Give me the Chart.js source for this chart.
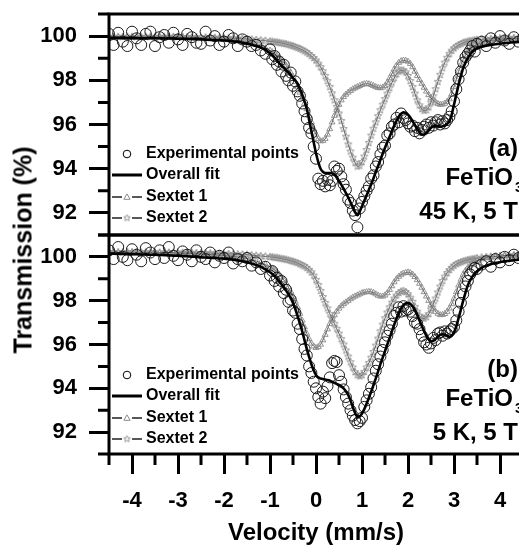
<!DOCTYPE html>
<html>
<head>
<meta charset="utf-8">
<script src="https://cdn.jsdelivr.net/npm/chart.js@4/dist/chart.umd.min.js"></script>
<style>
  html, body { margin: 0; padding: 0; background: #fff; overflow: hidden; }
  #wrap { position: relative; width: 519px; height: 548px; overflow: hidden; background: #fff; }
  #wrap canvas { position: absolute; left: 0; }
  #ytitle {
    position: absolute; left: 23px; top: 250px;
    transform: translate(-50%, -50%) rotate(-90deg);
    white-space: nowrap; font: bold 25px 'Liberation Sans', Arial, sans-serif; color: #000;
  }
</style>
</head>
<body>
<div id="wrap">
  <canvas id="panelA" width="560" height="265" style="top:0px"></canvas>
  <canvas id="panelB" width="560" height="327" style="top:221px"></canvas>
  <div id="ytitle">Transmission (%)</div>
</div>
<script>
// Velocity channels (mm/s) shared by every series
const velocity = [
  -4.5,-4.4,-4.3,-4.2,-4.1,-4.0,-3.9,-3.8,-3.7,-3.6,-3.5,-3.4,-3.3,-3.2,-3.1,-3.0,-2.9,-2.8,-2.7,-2.6,
  -2.5,-2.4,-2.3,-2.2,-2.1,-2.0,-1.9,-1.8,-1.7,-1.6,-1.5,-1.4,-1.3,-1.2,-1.1,
  -1.0,-0.95,-0.9,-0.85,-0.8,-0.75,-0.7,-0.65,-0.6,-0.55,-0.5,-0.45,-0.4,-0.35,-0.3,-0.25,-0.2,-0.15,-0.1,-0.05,
  0,0.05,0.1,0.15,0.2,0.25,0.3,0.35,0.4,0.45,0.5,0.55,0.6,0.65,0.7,0.75,0.8,0.85,0.9,0.95,
  1.0,1.05,1.1,1.15,1.2,1.25,1.3,1.35,1.4,1.45,1.5,1.55,1.6,1.65,1.7,1.75,1.8,1.85,1.9,1.95,
  2.0,2.05,2.1,2.15,2.2,2.25,2.3,2.35,2.4,2.45,2.5,2.55,2.6,2.65,2.7,2.75,2.8,2.85,2.9,2.95,
  3.0,3.05,3.1,3.15,3.2,3.25,3.3,3.35,3.4,3.45,3.5,
  3.6,3.7,3.8,3.9,4.0,4.1,4.2,4.3,4.4,4.5
];

// Panel (a): 45 K, 5 T
const expA = [
  100.1,99.6,100.15,99.75,99.55,100.2,99.9,99.6,100.1,100.2,99.55,99.95,100.05,99.7,100.15,99.85,99.6,100.1,99.95,99.7,
  99.65,100.2,99.8,100.0,99.6,99.75,100.05,99.9,99.55,99.85,99.75,99.55,99.6,99.35,99.2,
  99.4,98.95,99.1,98.7,98.85,98.4,98.7,98.2,98.0,98.35,97.75,97.95,97.5,97.3,96.95,96.6,96.25,95.85,95.6,95.0,
  94.45,93.55,93.3,93.45,93.2,93.5,93.25,93.45,94.1,93.9,94.0,93.65,93.3,93.05,92.6,92.45,92.1,91.9,91.35,92.2,
  92.5,92.75,93.0,93.2,93.55,93.7,94.1,94.3,94.65,94.95,95.05,95.5,95.6,95.9,96.0,96.3,96.1,96.5,96.3,96.2,
  96.05,95.9,95.95,95.7,95.85,95.6,95.75,95.9,96.0,95.85,96.1,95.95,96.1,96.2,96.0,96.15,96.05,96.2,96.35,96.6,
  97.05,97.6,98.05,98.4,98.8,99.05,99.2,99.35,99.55,99.3,99.65,
  99.75,99.55,99.9,99.7,100.0,99.8,99.65,99.95,99.75,99.85
];
const fitA = [
  99.92,99.92,99.92,99.91,99.91,99.91,99.91,99.9,99.9,99.9,99.9,99.9,99.89,99.89,99.89,99.88,99.88,99.87,99.87,99.86,
  99.85,99.84,99.83,99.82,99.81,99.8,99.78,99.76,99.73,99.7,99.66,99.61,99.55,99.48,99.38,
  99.22,99.12,99.02,98.9,98.78,98.67,98.56,98.46,98.35,98.23,98.1,97.99,97.85,97.62,97.35,97.05,96.7,96.22,95.7,95.2,
  94.7,94.3,94.0,93.86,93.8,93.8,93.8,93.79,93.75,93.62,93.45,93.28,93.1,92.9,92.7,92.48,92.25,92.03,91.9,92.06,
  92.3,92.55,92.8,93.05,93.3,93.57,93.85,94.12,94.4,94.68,94.95,95.2,95.45,95.7,95.95,96.17,96.35,96.48,96.55,96.53,
  96.45,96.32,96.15,95.97,95.8,95.65,95.55,95.55,95.6,95.73,95.85,95.92,95.95,95.92,95.9,95.92,95.95,96.03,96.15,96.45,
  96.9,97.35,97.8,98.2,98.55,98.8,99.0,99.17,99.3,99.39,99.45,
  99.52,99.57,99.6,99.63,99.66,99.68,99.7,99.72,99.73,99.74
];
const sextet1A = [
  99.95,99.95,99.95,99.95,99.95,99.95,99.95,99.95,99.95,99.95,99.95,99.95,99.95,99.95,99.95,99.95,99.94,99.94,99.93,99.93,
  99.92,99.91,99.9,99.89,99.88,99.87,99.85,99.83,99.8,99.77,99.73,99.68,99.62,99.55,99.46,
  99.35,99.28,99.2,99.12,99.02,98.92,98.8,98.67,98.52,98.35,98.15,97.93,97.7,97.45,97.2,96.95,96.7,96.4,96.1,95.8,
  95.55,95.35,95.25,95.26,95.35,95.55,95.8,96.1,96.4,96.67,96.9,97.1,97.25,97.36,97.45,97.53,97.6,97.65,97.7,97.75,
  97.8,97.83,97.85,97.83,97.8,97.75,97.7,97.66,97.65,97.68,97.75,97.9,98.1,98.3,98.5,98.67,98.8,98.87,98.9,98.89,
  98.85,98.75,98.6,98.4,98.2,98.02,97.85,97.67,97.5,97.34,97.2,97.09,97.0,96.94,96.9,96.91,96.95,97.03,97.15,97.38,
  97.7,98.05,98.4,98.7,98.95,99.14,99.3,99.41,99.5,99.57,99.62,
  99.7,99.75,99.79,99.82,99.85,99.87,99.88,99.89,99.9,99.9
];
const sextet2A = [
  99.97,99.97,99.97,99.97,99.97,99.97,99.97,99.97,99.97,99.97,99.97,99.97,99.97,99.97,99.97,99.97,99.96,99.96,99.95,99.95,
  99.94,99.94,99.93,99.93,99.92,99.92,99.91,99.9,99.89,99.88,99.87,99.85,99.83,99.81,99.79,
  99.76,99.75,99.73,99.72,99.7,99.68,99.66,99.64,99.61,99.58,99.55,99.51,99.47,99.43,99.38,99.32,99.26,99.19,99.1,99.01,
  98.9,98.76,98.6,98.41,98.2,97.96,97.7,97.41,97.1,96.8,96.5,96.16,95.8,95.45,95.1,94.78,94.5,94.27,94.1,94.14,
  94.3,94.55,94.85,95.17,95.5,95.81,96.1,96.38,96.65,96.9,97.15,97.4,97.65,97.89,98.1,98.28,98.4,98.45,98.45,98.36,
  98.2,97.97,97.7,97.4,97.1,96.87,96.7,96.63,96.65,96.78,97.0,97.28,97.6,97.93,98.25,98.55,98.8,99.02,99.2,99.34,
  99.45,99.53,99.6,99.65,99.7,99.73,99.76,99.78,99.8,99.82,99.83,
  99.85,99.87,99.88,99.89,99.9,99.91,99.91,99.92,99.92,99.92
];

// Panel (b): 5 K, 5 T
const expB = [
  100.3,99.9,100.45,100.0,99.85,100.35,100.1,99.8,100.4,100.2,99.9,100.3,99.95,100.45,100.05,99.85,100.25,100.1,99.8,100.3,
  100.0,99.9,100.2,99.75,100.05,99.95,100.2,99.7,99.9,99.8,99.95,99.6,99.75,99.45,99.55,
  99.15,99.35,98.9,99.05,98.65,98.9,98.35,98.5,97.95,98.05,97.55,97.45,96.95,96.7,96.25,95.8,95.5,95.0,94.7,94.3,
  94.0,93.6,93.3,93.85,93.55,94.1,94.5,95.15,95.25,95.2,94.6,94.3,93.95,93.6,93.3,93.0,92.75,92.55,92.4,92.5,
  92.65,93.15,93.45,93.75,94.05,94.45,94.8,95.1,95.45,95.75,96.1,96.4,96.65,96.95,97.3,97.45,97.7,97.5,97.75,97.55,
  97.6,97.5,97.3,97.0,96.95,96.7,96.4,96.1,96.0,95.85,96.05,96.3,96.2,96.5,96.55,96.4,96.6,96.5,96.6,96.7,
  96.8,97.1,97.5,97.9,98.3,98.65,98.9,99.2,99.35,99.5,99.45,
  99.65,99.8,99.55,99.9,99.75,100.0,99.85,100.1,99.95,100.05
];
const fitB = [
  100.15,100.15,100.14,100.14,100.13,100.12,100.12,100.11,100.11,100.1,100.1,100.09,100.08,100.07,100.06,100.05,100.04,100.03,100.01,100.0,
  99.98,99.97,99.96,99.95,99.93,99.92,99.9,99.87,99.84,99.8,99.76,99.7,99.63,99.55,99.43,
  99.3,99.22,99.12,99.01,98.88,98.75,98.6,98.46,98.3,98.12,97.9,97.62,97.3,96.96,96.6,96.2,95.8,95.43,95.1,94.82,
  94.6,94.5,94.45,94.42,94.4,94.38,94.35,94.3,94.25,94.2,94.15,94.09,94.0,93.87,93.7,93.45,93.15,92.87,92.7,92.72,
  92.85,93.05,93.3,93.57,93.85,94.15,94.45,94.77,95.1,95.4,95.7,96.0,96.3,96.6,96.9,97.18,97.45,97.65,97.8,97.88,
  97.9,97.85,97.75,97.57,97.35,97.1,96.85,96.61,96.4,96.24,96.15,96.17,96.25,96.36,96.45,96.47,96.45,96.4,96.35,96.4,
  96.55,96.84,97.2,97.6,98.0,98.37,98.7,98.93,99.1,99.24,99.35,
  99.5,99.6,99.67,99.72,99.76,99.8,99.82,99.85,99.87,99.88
];
const sextet1B = [
  100.2,100.2,100.2,100.2,100.2,100.2,100.2,100.19,100.19,100.19,100.19,100.18,100.18,100.18,100.17,100.17,100.16,100.16,100.15,100.14,
  100.13,100.12,100.11,100.1,100.08,100.06,100.04,100.02,99.99,99.96,99.92,99.87,99.81,99.74,99.65,
  99.54,99.48,99.4,99.31,99.2,99.08,98.95,98.8,98.62,98.42,98.2,97.96,97.7,97.41,97.1,96.79,96.5,96.25,96.05,95.92,
  95.85,95.89,96.0,96.2,96.45,96.7,96.95,97.16,97.35,97.51,97.65,97.76,97.85,97.93,98.0,98.08,98.15,98.2,98.25,98.3,
  98.35,98.38,98.4,98.41,98.4,98.36,98.3,98.24,98.2,98.2,98.25,98.35,98.5,98.67,98.85,98.99,99.1,99.19,99.25,99.28,
  99.3,99.27,99.2,99.09,98.95,98.78,98.6,98.4,98.2,98.0,97.8,97.64,97.5,97.41,97.35,97.36,97.4,97.5,97.65,97.85,
  98.1,98.4,98.7,98.97,99.2,99.37,99.5,99.61,99.7,99.77,99.82,
  99.9,99.95,99.99,100.02,100.04,100.06,100.07,100.08,100.09,100.1
];
const sextet2B = [
  100.22,100.22,100.22,100.22,100.22,100.22,100.21,100.21,100.21,100.21,100.21,100.2,100.2,100.2,100.2,100.2,100.19,100.19,100.19,100.18,
  100.18,100.17,100.17,100.16,100.15,100.15,100.14,100.13,100.12,100.11,100.1,100.08,100.06,100.04,100.02,
  100.0,99.99,99.97,99.96,99.94,99.92,99.9,99.88,99.85,99.82,99.79,99.76,99.72,99.67,99.62,99.57,99.5,99.41,99.3,99.15,
  98.95,98.72,98.45,98.17,97.9,97.65,97.4,97.17,96.95,96.72,96.5,96.25,96.0,95.73,95.45,95.19,94.95,94.74,94.6,94.55,
  94.6,94.75,94.95,95.16,95.4,95.66,95.95,96.27,96.6,96.91,97.2,97.46,97.7,97.91,98.1,98.24,98.35,98.42,98.45,98.4,
  98.3,98.14,97.95,97.72,97.5,97.32,97.2,97.19,97.25,97.39,97.6,97.84,98.1,98.38,98.65,98.9,99.1,99.27,99.4,99.51,
  99.6,99.67,99.72,99.76,99.8,99.83,99.86,99.88,99.9,99.92,99.94,
  99.97,99.99,100.01,100.03,100.04,100.05,100.06,100.07,100.08,100.08
];

// Axis ticks
const yMajor = [92, 94, 96, 98, 100];
const yMinor = [91, 93, 95, 97, 99, 101];
const xMajor = [-4, -3, -2, -1, 0, 1, 2, 3, 4];
const xMinor = [-4.5, -3.5, -2.5, -1.5, -0.5, 0.5, 1.5, 2.5, 3.5, 4.5];

const legendLabels = ['Experimental points', 'Overall fit', 'Sextet 1', 'Sextet 2'];
const FONT = "'Liberation Sans', Arial, sans-serif";
Chart.defaults.font.family = FONT;
Chart.defaults.color = '#000';

const near = (v, list) => list.some(t => Math.abs(t - v) < 1e-6);
const pairs = ys => velocity.map((v, i) => ({ x: v, y: ys[i] }));

// open five-point star used as marker for the second sextet
function starMarker(r, color) {
  const c = document.createElement('canvas');
  const s = Math.ceil(r * 2 + 2);
  c.width = s; c.height = s;
  const g = c.getContext('2d');
  g.strokeStyle = color; g.lineWidth = 0.9;
  g.beginPath();
  for (let i = 0; i < 10; i++) {
    const rr = i % 2 ? r * 0.45 : r;
    const a = -Math.PI / 2 + i * Math.PI / 5;
    const px = s / 2 + rr * Math.cos(a), py = s / 2 + rr * Math.sin(a);
    if (i) g.lineTo(px, py); else g.moveTo(px, py);
  }
  g.closePath(); g.stroke();
  return c;
}
const STAR = starMarker(3.8, '#8a8a8a');
const STAR_LEG = starMarker(3.4, '#8a8a8a');

function drawTriangle(ctx, cx, cy, r, color) {
  ctx.save();
  ctx.strokeStyle = color; ctx.lineWidth = 1;
  ctx.beginPath();
  ctx.moveTo(cx, cy - r);
  ctx.lineTo(cx + r * 0.87, cy + r * 0.5);
  ctx.lineTo(cx - r * 0.87, cy + r * 0.5);
  ctx.closePath(); ctx.stroke();
  ctx.restore();
}

// frame, minor ticks, in-panel legend and sample labels
const panelDecor = {
  id: 'panelDecor',
  afterDraw(chart, args, o) {
    const { ctx, chartArea: a } = chart;
    const xs = chart.scales.x, ys = chart.scales.y;
    ctx.save();
    ctx.strokeStyle = '#000';
    ctx.lineWidth = 3;
    ctx.lineCap = 'butt';
    ctx.strokeRect(a.left, a.top, a.right - a.left, a.bottom - a.top);
    ctx.beginPath();
    yMinor.forEach(v => {
      const py = ys.getPixelForValue(v);
      ctx.moveTo(a.left - 11, py); ctx.lineTo(a.left, py);
    });
    if (o.xTicks) {
      xMinor.forEach(v => {
        const px = xs.getPixelForValue(v);
        ctx.moveTo(px, a.bottom); ctx.lineTo(px, a.bottom + 11);
      });
    }
    ctx.stroke();

    // legend
    const rows = [140, 161, 183, 204].map(d => a.top + d);
    const sx = a.left + 18, l0 = a.left + 3, l1 = a.left + 33;
    ctx.fillStyle = '#000';
    ctx.font = 'bold 16px ' + FONT;
    ctx.textAlign = 'left';
    ctx.textBaseline = 'middle';
    legendLabels.forEach((t, i) => ctx.fillText(t, a.left + 37, rows[i]));
    ctx.lineWidth = 1;
    ctx.beginPath(); ctx.arc(sx, rows[0], 3.8, 0, Math.PI * 2); ctx.stroke();
    ctx.lineWidth = 3;
    ctx.beginPath(); ctx.moveTo(l0, rows[1]); ctx.lineTo(l1, rows[1]); ctx.stroke();
    ctx.lineWidth = 1.3;
    ctx.strokeStyle = '#222';
    [2, 3].forEach(i => {
      ctx.beginPath();
      ctx.moveTo(l0, rows[i]); ctx.lineTo(sx - 5, rows[i]);
      ctx.moveTo(sx + 5, rows[i]); ctx.lineTo(l1, rows[i]);
      ctx.stroke();
    });
    drawTriangle(ctx, sx, rows[2] + 0.5, 3.6, '#8a8a8a');
    ctx.drawImage(STAR_LEG, sx - STAR_LEG.width / 2, rows[3] - STAR_LEG.height / 2);

    // sample labels
    ctx.fillStyle = '#000';
    ctx.font = 'bold 24px ' + FONT;
    ctx.textAlign = 'right';
    ctx.fillText(o.tag, a.right - 5, a.top + 135);
    ctx.fillText('FeTiO', a.right - 10, a.top + 164);
    ctx.fillText(o.cond, a.right - 5, a.top + 198);
    ctx.font = 'bold 14px ' + FONT;
    ctx.textAlign = 'left';
    ctx.fillText('3', a.right - 8, a.top + 174);
    ctx.restore();
  }
};

function panelConfig(exp, fit, s1, s2, decor, withX) {
  return {
    type: 'line',
    data: {
      datasets: [
        { label: 'Overall fit', data: pairs(fit), borderColor: '#000', borderWidth: 2.6,
          pointRadius: 0, cubicInterpolationMode: 'monotone' },
        { label: 'Experimental points', data: pairs(exp), showLine: false, pointStyle: 'circle',
          pointRadius: 5.5, pointBorderWidth: 1, pointBorderColor: '#1a1a1a',
          pointBackgroundColor: 'rgba(0,0,0,0)' },
        { label: 'Sextet 1', data: pairs(s1), borderColor: '#555', borderWidth: 1,
          pointStyle: 'triangle', pointRadius: 3.4, pointBorderWidth: 0.9,
          pointBorderColor: '#8a8a8a', pointBackgroundColor: 'rgba(0,0,0,0)',
          cubicInterpolationMode: 'monotone' },
        { label: 'Sextet 2', data: pairs(s2), borderColor: '#555', borderWidth: 1,
          pointStyle: STAR, pointRadius: 3.8,
          cubicInterpolationMode: 'monotone' }
      ]
    },
    options: {
      responsive: false,
      animation: false,
      events: [],
      layout: { padding: { left: 0, right: 37, top: 14, bottom: withX ? 0 : 30 } },
      plugins: { legend: { display: false }, tooltip: { enabled: false }, panelDecor: decor },
      scales: {
        x: {
          type: 'linear', min: -4.5, max: 4.5, display: withX,
          afterFit(s) { s.height = withX ? 94 : 0; },
          border: { display: false },
          grid: { drawOnChartArea: false, drawTicks: true, tickLength: 20, tickWidth: 3,
                  tickColor: c => near(c.tick.value, xMajor) ? '#000' : 'rgba(0,0,0,0)' },
          ticks: { stepSize: 0.5, autoSkip: false, maxRotation: 0, padding: 14, color: '#000',
                   font: { size: 22, weight: 'bold' },
                   callback: v => near(v, xMajor) ? String(Math.round(v)) : '' },
          title: { display: true, text: 'Velocity (mm/s)', color: '#000',
                   font: { size: 24, weight: 'bold' }, padding: { top: 0, bottom: 0 } }
        },
        y: {
          type: 'linear', min: 91, max: 101,
          afterFit(s) { s.width = 109; },
          border: { display: false },
          grid: { drawOnChartArea: false, drawTicks: true, tickLength: 20, tickWidth: 3,
                  tickColor: c => near(c.tick.value, yMajor) ? '#000' : 'rgba(0,0,0,0)' },
          ticks: { stepSize: 1, autoSkip: false, padding: 12, color: '#000',
                   font: { size: 22, weight: 'bold', lineHeight: 0.05 },
                   callback: v => near(v, yMajor) ? String(v) : '' }
        }
      }
    },
    plugins: [panelDecor]
  };
}

new Chart(document.getElementById('panelB'),
  panelConfig(expB, fitB, sextet1B, sextet2B, { tag: '(b)', cond: '5 K, 5 T', xTicks: true }, true));
new Chart(document.getElementById('panelA'),
  panelConfig(expA, fitA, sextet1A, sextet2A, { tag: '(a)', cond: '45 K, 5 T', xTicks: false }, false));
</script>
</body>
</html>
